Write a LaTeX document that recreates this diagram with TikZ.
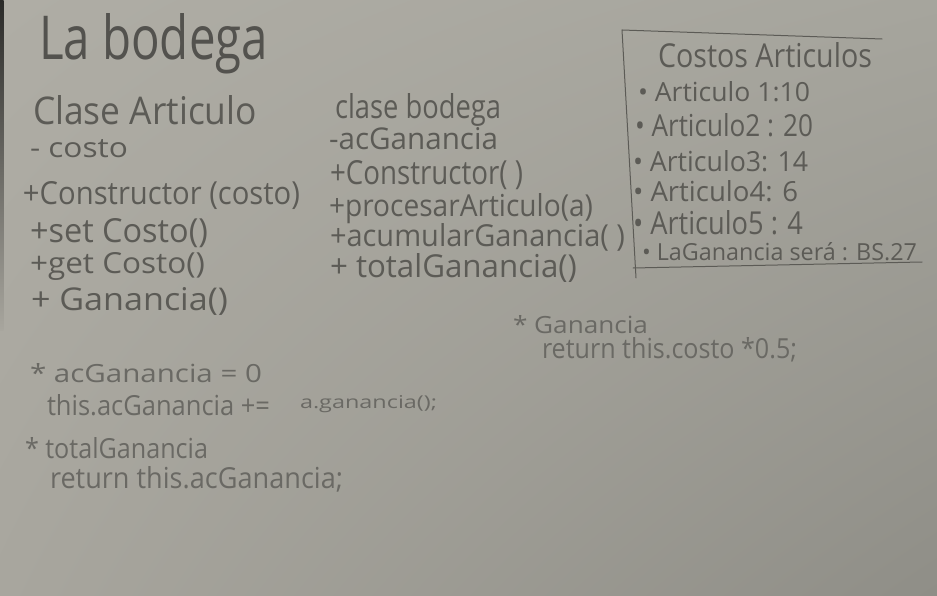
\documentclass[tikz,border=0pt]{standalone}
\usepackage{fontspec}
\setmainfont{Open Sans}
\usepackage{graphicx}
\usetikzlibrary{shadings}

\definecolor{paperUL}{HTML}{AFADA5}
\definecolor{paperUR}{HTML}{A6A59D}
\definecolor{paperLL}{HTML}{A8A69E}
\definecolor{paperLR}{HTML}{8F8E87}
\definecolor{pencil}{HTML}{5C5B56}
\definecolor{pencilsoft}{HTML}{6A6964}
\definecolor{edge}{HTML}{2A2A28}

% stretch a line of text to a given width and height (in pt)
\newcommand{\hand}[3]{\resizebox{#1pt}{#2pt}{#3}}

\tikzset{
  note/.style={anchor=base west, inner sep=0pt, outer sep=0pt, text=pencil},
  softnote/.style={note, text=pencilsoft},
  rule/.style={draw=pencil, line width=1pt, line cap=round}
}

\begin{document}
\begin{tikzpicture}[x=1pt, y=-1pt]
  % sheet of paper
  \shade[upper left=paperUL, upper right=paperUR, lower left=paperLL, lower right=paperLR]
    (0,0) rectangle (937,596);
  \shade[top color=edge, bottom color=paperLL] (0,0) rectangle (3.5,330);
  \useasboundingbox (0,0) rectangle (937,596);

  % title
  \node[note, text=pencil!90!black] (title) at (39,60) {\hand{229}{46}{La bodega}};

  % class Articulo
  \node[note] (artName) at (33,125) {\hand{224}{29}{Clase Articulo}};
  \node[note] (artAttr) at (30,158) {\hand{98}{18}{- costo}};
  \node[note] (artCons) at (23,205) {\hand{277}{23}{+Constructor (costo)}};
  \node[note] (artSet)  at (30,242) {\hand{178}{24}{+set Costo()}};
  \node[note] (artGet)  at (30,273) {\hand{175}{21}{+get Costo()}};
  \node[note] (artGan)  at (31,310) {\hand{197}{23}{+ Ganancia()}};

  % class bodega
  \node[note] (bodName) at (335,119) {\hand{166}{25}{clase bodega}};
  \node[note] (bodAttr) at (329,150) {\hand{169}{22}{-acGanancia}};
  \node[note] (bodCons) at (330,185) {\hand{193}{24}{+Constructor( )}};
  \node[note] (bodProc) at (329,217) {\hand{264}{23}{+procesarArticulo(a)}};
  \node[note] (bodAcum) at (330,247) {\hand{295}{23}{+acumularGanancia( )}};
  \node[note] (bodTot)  at (330,277) {\hand{247}{24}{+ totalGanancia()}};

  % cost table
  \coordinate (boxTL) at (622,30);
  \coordinate (boxTR) at (882,39);
  \coordinate (boxBL) at (636,278);
  \coordinate (boxLs) at (633,268);
  \coordinate (boxBR) at (922,262);
  \draw[rule] (boxTL) -- (boxTR);
  \draw[rule] (boxTL) -- (boxBL);
  \draw[rule] (boxLs) -- (boxBR);

  \node[note] (tabHead) at (658,68)  {\hand{214}{25}{Costos Articulos}};
  \node[note] (tabA1)   at (638,102) {\hand{172}{20}{• Articulo 1:10}};
  \node[note] (tabA2)   at (635,137) {\hand{178}{23}{• Articulo2 : 20}};
  \node[note] (tabA3)   at (633,172) {\hand{175}{21}{• Articulo3: 14}};
  \node[note] (tabA4)   at (633,202) {\hand{165}{21}{• Articulo4: 6}};
  \node[note] (tabA5)   at (633,235) {\hand{170}{24}{• Articulo5 : 4}};
  \node[note] (tabTot)  at (642,261) {\hand{275}{18}{• LaGanancia será : BS.27}};

  % method notes
  \node[softnote] (noteAcum)  at (30,382) {\hand{232}{19}{* acGanancia = 0}};
  \node[softnote] (noteAcumB) at (47,415) {\hand{223}{21}{this.acGanancia +=}};
  \node[softnote] (noteAcumC) at (300,408) {\hand{137}{13}{a.ganancia();}};
  \node[softnote] (noteTot)   at (25,458) {\hand{183}{21}{* totalGanancia}};
  \node[softnote] (noteTotB)  at (50,488) {\hand{293}{22}{return this.acGanancia;}};
  \node[softnote] (noteGan)   at (513,333) {\hand{135}{18}{* Ganancia}};
  \node[softnote] (noteGanB)  at (542,358) {\hand{255}{21}{return this.costo *0.5;}};
\end{tikzpicture}
\end{document}
